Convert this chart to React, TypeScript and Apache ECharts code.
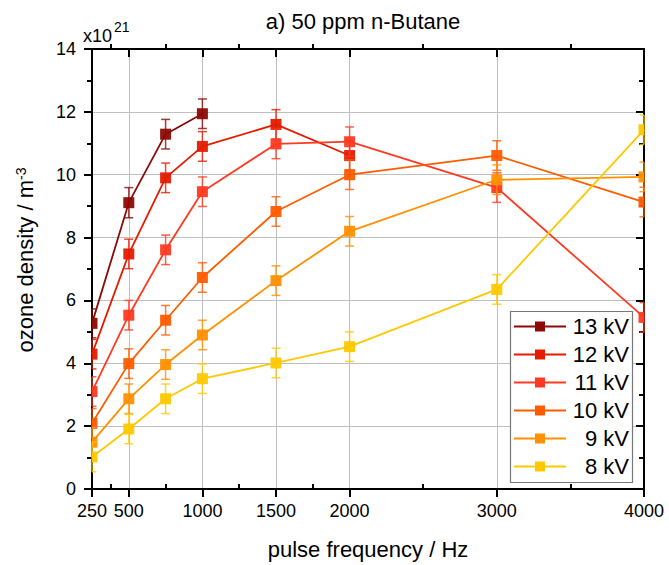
import React, { useEffect, useRef } from "react";
import * as echarts from "echarts";

const FONT = "'Liberation Sans', Arial, sans-serif";

const freq = [250, 500, 750, 1000, 1500, 2000, 3000, 4000];
const xLabelValues = [250, 500, 1000, 1500, 2000, 3000, 4000];
const xMinorValues = [375, 750, 1250, 1750, 2500, 3500];

const names = ["13 kV", "12 kV", "11 kV", "10 kV", "9 kV", "8 kV"];
const colors = ["#8c0a05", "#e31c00", "#ff3a22", "#ff5c00", "#ff9000", "#ffc800"];

const kv13 = [5.27, 9.11, 11.29, 11.94];
const kv12 = [4.29, 7.48, 9.9, 10.9, 11.6, 10.61];
const kv11 = [3.1, 5.53, 7.61, 9.46, 10.98, 11.05, 9.59, 5.46];
const kv10 = [2.09, 3.99, 5.37, 6.73, 8.83, 10.0, 10.61, 9.13];
const kv9 = [1.49, 2.87, 3.96, 4.9, 6.63, 8.2, 9.84, 9.93];
const kv8 = [1.02, 1.91, 2.87, 3.51, 4.01, 4.53, 6.35, 11.43];

const err13 = [0.46, 0.48, 0.47, 0.47];
const err12 = [0.47, 0.47, 0.47, 0.47, 0.47, 0.47];
const err11 = [0.47, 0.47, 0.47, 0.47, 0.47, 0.47, 0.47, 0.47];
const err10 = [0.47, 0.47, 0.47, 0.47, 0.47, 0.47, 0.47, 0.47];
const err9 = [0.47, 0.47, 0.47, 0.47, 0.47, 0.47, 0.47, 0.47];
const err8 = [0.47, 0.47, 0.47, 0.47, 0.47, 0.47, 0.47, 0.47];

const values = [kv13, kv12, kv11, kv10, kv9, kv8];
const errors = [err13, err12, err11, err10, err9, err8];

export default function App() {
  const ref = useRef<HTMLDivElement>(null);

  useEffect(() => {
    document.body.style.margin = "0";
    if (!ref.current) return;
    const chart = echarts.init(ref.current, null, { renderer: "svg" });

    const lineSeries: any[] = values.map((vals, i) => ({
      name: names[i],
      type: "line",
      xAxisIndex: 0,
      yAxisIndex: 0,
      data: vals.map((v, j) => [freq[j], v]),
      symbol: "rect",
      symbolSize: 11,
      showSymbol: false,
      color: colors[i],
      lineStyle: { color: colors[i], width: 1.8 },
      itemStyle: { color: colors[i] },
      z: 2,
    }));

    const markerSeries: any[] = values.map((vals, i) => ({
      name: names[i] + " markers",
      type: "custom",
      xAxisIndex: 0,
      yAxisIndex: 0,
      z: 3,
      data: vals.map((v, j) => [freq[j], v, errors[i][j]]),
      encode: { x: 0, y: 1 },
      renderItem: (params: any, api: any) => {
        const cs = params.coordSys;
        const left = cs.x;
        const right = cs.x + cs.width;
        const clampX = (v: number) => Math.max(left, Math.min(right, v));
        const x = api.value(0);
        const y = api.value(1);
        const e = api.value(2);
        const c = api.coord([x, y]);
        const t = api.coord([x, y + e]);
        const b = api.coord([x, y - e]);
        const cap = 4.5;
        const s = 11;
        const es = { stroke: colors[i], lineWidth: 1.5, opacity: 0.8 };
        const rx0 = clampX(c[0] - s / 2);
        const rx1 = clampX(c[0] + s / 2);
        const cx0 = clampX(c[0] - cap);
        const cx1 = clampX(c[0] + cap);
        return {
          type: "group",
          children: [
            { type: "line", shape: { x1: c[0], y1: t[1], x2: c[0], y2: b[1] }, style: es },
            { type: "line", shape: { x1: cx0, y1: t[1], x2: cx1, y2: t[1] }, style: es },
            { type: "line", shape: { x1: cx0, y1: b[1], x2: cx1, y2: b[1] }, style: es },
            {
              type: "rect",
              shape: { x: rx0, y: c[1] - s / 2, width: rx1 - rx0, height: s },
              style: { fill: colors[i], opacity: 0.95 },
            },
          ],
        };
      },
    }));

    const axisLineStyle = { color: "#000", width: 2 };

    const option: any = {
      animation: false,
      backgroundColor: "#fff",
      textStyle: { fontFamily: FONT },
      grid: { left: 92, top: 49, width: 552, height: 445, containLabel: false },
      legend: {
        data: names,
        left: 510,
        top: 311,
        orient: "vertical",
        itemWidth: 52,
        itemHeight: 12.5,
        itemGap: 6,
        padding: [4.5, 4, 4.5, 3],
        borderWidth: 0,
        z: 8,
        formatter: (n: string) => `{a|${n}}`,
        textStyle: {
          fontFamily: FONT,
          fontSize: 22,
          color: "#000",
          lineHeight: 22,
          rich: { a: { width: 58, align: "right", fontSize: 22, fontFamily: FONT, color: "#000", lineHeight: 22 } },
        },
        selectedMode: false,
      },
      xAxis: [
        {
          type: "value",
          position: "bottom",
          min: 250,
          max: 4000,
          axisLine: { show: true, onZero: false, lineStyle: axisLineStyle },
          axisTick: { show: true, inside: false, length: 8, customValues: xLabelValues, lineStyle: axisLineStyle },
          axisLabel: {
            show: true,
            customValues: xLabelValues,
            formatter: (v: number) => String(v),
            margin: 13,
            fontSize: 18,
            fontFamily: FONT,
            color: "#000",
          },
          splitLine: { show: true, lineStyle: { color: "#c0c0c0", width: 1 } },
          name: "pulse frequency / Hz",
          nameLocation: "middle",
          nameGap: 49,
          nameTextStyle: { fontSize: 22, fontFamily: FONT, color: "#000" },
        },
        {
          type: "value",
          position: "top",
          min: 250,
          max: 4000,
          axisLine: { show: true, onZero: false, lineStyle: axisLineStyle },
          axisTick: { show: true, inside: true, length: 8, customValues: xLabelValues, lineStyle: axisLineStyle },
          axisLabel: { show: false },
          splitLine: { show: false },
        },
        {
          type: "value",
          position: "top",
          min: 250,
          max: 4000,
          axisLine: { show: false, onZero: false },
          axisTick: { show: true, inside: false, length: 5, customValues: xMinorValues, lineStyle: axisLineStyle },
          axisLabel: { show: false },
          splitLine: { show: false },
        },
        {
          type: "value",
          position: "bottom",
          min: 250,
          max: 4000,
          axisLine: { show: false, onZero: false },
          axisTick: { show: true, inside: true, length: 5, customValues: xMinorValues, lineStyle: axisLineStyle },
          axisLabel: { show: false },
          splitLine: { show: false },
        },
      ],
      yAxis: [
        {
          type: "value",
          position: "left",
          min: 0,
          max: 14,
          interval: 2,
          axisLine: { show: true, onZero: false, lineStyle: axisLineStyle },
          axisTick: { show: true, inside: false, length: 8, lineStyle: axisLineStyle },
          minorTick: { show: true, splitNumber: 2, length: 5, lineStyle: axisLineStyle },
          axisLabel: { show: true, margin: 16, fontSize: 18, fontFamily: FONT, color: "#000" },
          splitLine: { show: true, lineStyle: { color: "#c0c0c0", width: 1 } },
          name: "ozone density / m{sup|-3}",
          nameLocation: "middle",
          nameRotate: 90,
          nameGap: 56,
          nameTextStyle: {
            fontSize: 22,
            fontFamily: FONT,
            color: "#000",
            padding: [0, 0, 0, 18],
            rich: { sup: { fontSize: 14, fontFamily: FONT, color: "#000", verticalAlign: "top", lineHeight: 22 } },
          },
        },
        {
          type: "value",
          position: "right",
          min: 0,
          max: 14,
          interval: 2,
          axisLine: { show: true, onZero: false, lineStyle: axisLineStyle },
          axisTick: { show: true, inside: true, length: 8, lineStyle: axisLineStyle },
          minorTick: { show: true, splitNumber: 2, length: 5, lineStyle: axisLineStyle },
          axisLabel: { show: false },
          splitLine: { show: false },
        },
      ],
      graphic: [
        {
          type: "rect",
          z: 7,
          shape: { x: 510.5, y: 311.5, width: 122, height: 171 },
          style: { fill: "#fff", stroke: "#777", lineWidth: 1.2 },
        },
        {
          type: "text",
          x: 363,
          y: 21,
          style: {
            text: "a) 50 ppm n-Butane",
            fontFamily: FONT,
            fontSize: 22,
            fill: "#000",
            align: "center",
            verticalAlign: "middle",
          },
        },
        {
          type: "text",
          x: 83,
          y: 36,
          style: { text: "x10", fontFamily: FONT, fontSize: 18, fill: "#000", align: "left", verticalAlign: "middle" },
        },
        {
          type: "text",
          x: 114,
          y: 27,
          style: { text: "21", fontFamily: FONT, fontSize: 14, fill: "#000", align: "left", verticalAlign: "middle" },
        },
      ],
      series: [...lineSeries, ...markerSeries],
    };

    chart.setOption(option);
    return () => chart.dispose();
  }, []);

  return <div ref={ref} style={{ width: 669, height: 565 }} />;
}
